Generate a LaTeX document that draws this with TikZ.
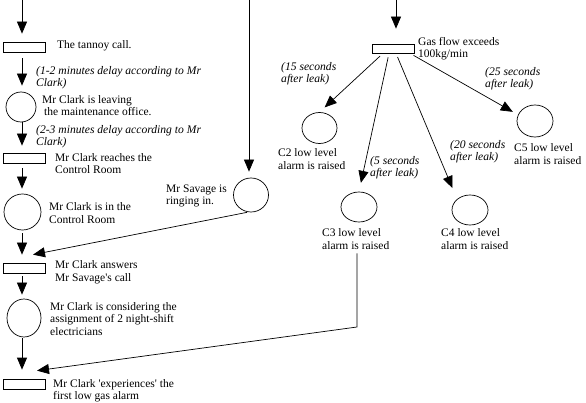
\documentclass[tikz,border=0pt]{standalone}
\usepackage{fontspec}
\setmainfont{Liberation Serif}
\usetikzlibrary{arrows.meta,shapes.geometric,calc}
\begin{document}
\begin{tikzpicture}[x=1pt,y=-1pt,
  every node/.style={font=\fontsize{11.5}{12.5}\selectfont},
  evbox/.style={draw,rectangle,minimum width=42pt,minimum height=10pt,inner sep=0pt,line width=0.7pt},
  stcirc/.style={draw,ellipse,inner sep=0pt,line width=0.7pt},
  lbl/.style={anchor=west,align=left,inner sep=0pt},
  dly/.style={anchor=west,align=left,inner sep=0pt,font=\fontsize{11.6}{12}\selectfont\itshape},
  arr/.style={line width=0.7pt,-{Triangle[length=12pt,width=10pt]}},
  ln/.style={line width=0.7pt}]
\useasboundingbox (0,0) rectangle (586,403);
\fill[white] (0,0) rectangle (586,403);
% event boxes and state circles
\node[evbox] (B1) at (24,47) {};
\node[stcirc,minimum width=30pt,minimum height=30pt] (C1) at (21,107) {};
\node[evbox] (B2) at (24,158) {};
\node[stcirc,minimum width=37pt,minimum height=36pt] (C2) at (22.5,212) {};
\node[evbox] (B3) at (24,268) {};
\node[stcirc,minimum width=34pt,minimum height=38pt] (C3) at (24,318) {};
\node[evbox] (B4) at (24,384) {};
\node[stcirc,minimum width=35pt,minimum height=34pt] (CS) at (251,195) {};
\node[evbox,minimum height=9pt] (BG) at (393,48.5) {};
\node[stcirc,minimum width=35pt,minimum height=31pt] (CC2) at (319.5,128) {};
\node[stcirc,minimum width=36pt,minimum height=30pt] (CC3) at (359,207) {};
\node[stcirc,minimum width=36pt,minimum height=30pt] (CC4) at (470,210) {};
\node[stcirc,minimum width=36pt,minimum height=32pt] (CC5) at (535,121) {};
% texts
\node[lbl] (T1) at (57,46) {The tannoy call.};
\node[dly] (L1) at (36,78) {(1-2 minutes delay according to Mr\\Clark)};
\node[lbl] (T2) at (42,105.5) {Mr Clark is leaving\\\hspace*{2pt}the maintenance office.};
\node[dly] (L2) at (36,137) {(2-3 minutes delay according to Mr\\Clark)};
\node[lbl] (T3) at (55,163.5) {Mr Clark reaches the\\Control Room};
\node[lbl] (T4) at (49,213) {Mr Clark is in the\\Control Room};
\node[lbl] (T5) at (55,272.5) {Mr Clark answers\\Mr Savage\textquotesingle s call};
\node[lbl] (T6) at (50,319) {Mr Clark is considering the\\assignment of 2 night-shift\\electricians};
\node[lbl] (T7) at (53,391) {Mr Clark \textquotesingle experiences\textquotesingle\ the\\first low gas alarm};
\node[lbl] (TS) at (166,196) {Mr Savage is\\ringing in.};
\node[lbl] (TG) at (418,48.5) {Gas flow exceeds\\100kg/min};
\node[dly] (L15) at (281,74) {(15 seconds\\after leak)};
\node[dly] (L25) at (485,78.5) {(25 seconds\\after leak)};
\node[dly] (L5) at (370,167.5) {(5 seconds\\after leak)};
\node[dly] (L20) at (450,151.5) {(20 seconds\\after leak)};
\node[lbl] (TC2) at (278,159) {C2 low level\\alarm is raised};
\node[lbl] (TC5) at (514,154) {C5 low level\\alarm is raised};
\node[lbl] (TC3) at (322,239) {C3 low level\\alarm is raised};
\node[lbl] (TC4) at (441,239) {C4 low level\\alarm is raised};
% free ends
\coordinate (s0) at (22,0);
\coordinate (s1) at (249,0);
\coordinate (s2) at (396,0);
\coordinate (k) at (357,327);
% left column arrows
\draw[arr,shorten >=8pt] (s0) -- (B1.north -| s0);
\draw[arr,shorten <=6pt,shorten >=6pt] (B1.south -| s0) -- (C1.north -| s0);
\draw[arr,shorten >=7pt] (C1.south -| s0) -- (B2.north -| s0);
\draw[arr,shorten <=5pt,shorten >=5pt] (B2.south -| s0) -- (C2.north -| s0);
\draw[arr,shorten <=3pt,shorten >=8pt] (C2.south -| s0) -- (B3.north -| s0);
\draw[arr,shorten <=3pt,shorten >=4pt] (B3.south -| s0) -- (C3.north -| s0);
\draw[arr,shorten <=1pt,shorten >=9pt] (C3.south -| s0) -- (B4.north -| s0);
% Savage
\draw[arr,shorten >=6pt] (s1) -- (CS.north -| s1);
\draw[arr] ([xshift=-4pt]CS.south) -- ([xshift=9pt,yshift=8pt]B3.north);
% gas flow
\draw[arr,shorten >=15pt] (s2) -- (BG.north -| s2);
\draw[arr,shorten <=4pt,shorten >=7pt] ([xshift=-10pt]BG.south) -- (CC2.north);
\draw[arr,shorten <=4pt,shorten >=9pt] ([xshift=-4pt]BG.south) -- (CC3.north);
\draw[arr,shorten <=4pt,shorten >=12pt] ([xshift=3pt]BG.south) -- (CC4.north west);
\draw[arr,shorten <=4pt,shorten >=6pt] ([xshift=17pt]BG.south) -- (CC5.160);
% C3 to first low gas alarm
\draw[arr,shorten <=4pt] (k |- TC3.south) -- (k) -- ([xshift=13pt,yshift=8pt]B4.north);
\end{tikzpicture}
\end{document}
